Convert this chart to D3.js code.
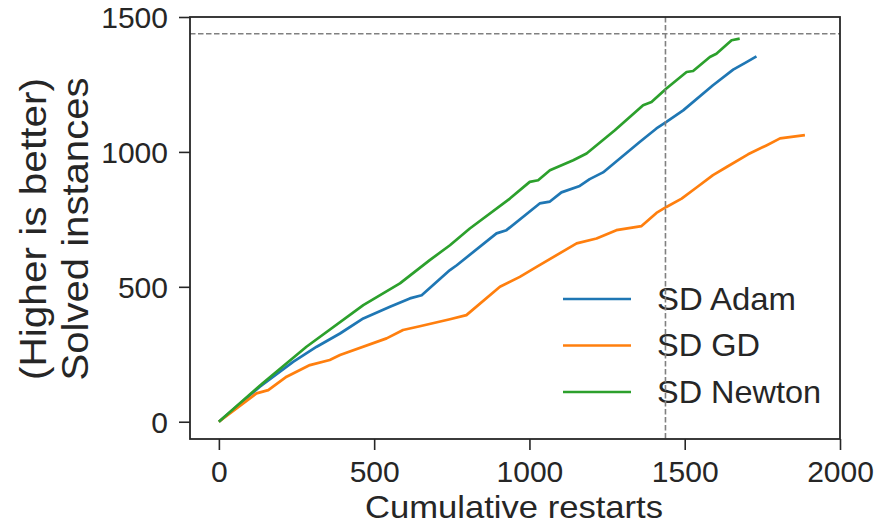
<!DOCTYPE html>
<html><head><meta charset="utf-8">
<script src="https://cdn.jsdelivr.net/npm/d3@7"></script>
<style>body{margin:0;background:#fff}svg{display:block}text{font-family:"Liberation Sans",Arial,sans-serif;fill:#262626}</style>
</head><body><svg id="c" width="877" height="528"></svg>
<script>
const adamX = [0,132,239,315,390,465,551,615,653,744,766,894,926,1033,1066,1103,1162,1194,1237,1355,1409,1441,1495,1591,1656,1699,1731];
const adamY = [0,130,222,278,327,383,426,457,469,562,580,698,710,809,816,850,874,899,924,1037,1087,1111,1154,1247,1305,1333,1354];
const gdX = [0,121,159,218,293,357,390,540,593,647,744,797,905,969,1023,1152,1216,1280,1361,1409,1441,1490,1538,1591,1635,1704,1763,1807,1887];
const gdY = [0,105,117,167,210,229,247,309,340,354,380,395,500,537,574,661,679,710,725,774,796,827,868,914,944,991,1024,1050,1062];
const newtonX = [0,140,282,465,583,679,744,808,937,1001,1028,1066,1141,1184,1275,1366,1393,1441,1506,1527,1581,1602,1651,1677];
const newtonY = [0,142,278,432,513,599,654,716,827,889,895,932,969,994,1080,1173,1185,1235,1296,1300,1352,1364,1414,1420];
const seriesNames = ["SD Adam","SD GD","SD Newton"];
const seriesColors = ["#1f77b4","#ff7f0e","#2ca02c"];
const xTicks = [0,500,1000,1500,2000];
const yTicks = [0,500,1000,1500];
const refValue = 1438;
const xLabel = "Cumulative restarts";
const yLabel1 = "(Higher is better)";
const yLabel2 = "Solved instances";

const svg = d3.select("#c");
const L=190,R=840,T=17,B=439;
const x = d3.scaleLinear().domain([-93,2000]).range([L,R]);
const y = d3.scaleLinear().domain([-64,1500]).range([B,T]);

const series = [[adamX,adamY],[gdX,gdY],[newtonX,newtonY]];
const line = d3.line().x(d=>x(d[0])).y(d=>y(d[1]));
series.forEach((s,i)=>{
  const pts = s[0].map((v,j)=>[v,s[1][j]]);
  svg.append("path").datum(pts).attr("d",line).attr("fill","none")
    .attr("stroke",seriesColors[i]).attr("stroke-width",2.7).attr("stroke-linejoin","round");
});

// legend
seriesNames.forEach((n,i)=>{
  const ly = 299 + i*46.5;
  svg.append("line").attr("x1",563).attr("x2",631).attr("y1",ly).attr("y2",ly)
    .attr("stroke",seriesColors[i]).attr("stroke-width",2.7);
  svg.append("text").attr("x",657).attr("y",ly+10.5).attr("font-size",30.5).text(n)
    .attr("textLength",[139,103,164][i]).attr("lengthAdjust","spacingAndGlyphs");
});

// reference lines
svg.append("line").attr("x1",L).attr("x2",R).attr("y1",y(refValue)).attr("y2",y(refValue))
  .attr("stroke","#808080").attr("stroke-width",1.6).attr("stroke-dasharray","5.5,2.5");
svg.append("line").attr("x1",x(refValue)).attr("x2",x(refValue)).attr("y1",T).attr("y2",B)
  .attr("stroke","#808080").attr("stroke-width",1.6).attr("stroke-dasharray","5.5,2.5");

// axes
const xa = svg.append("g").attr("transform",`translate(0,${B})`)
  .call(d3.axisBottom(x).tickValues(xTicks).tickFormat(d3.format("d")).tickSize(11).tickPadding(6).tickSizeOuter(0));
const ya = svg.append("g").attr("transform",`translate(${L},0)`)
  .call(d3.axisLeft(y).tickValues(yTicks).tickFormat(d3.format("d")).tickSize(11).tickPadding(11).tickSizeOuter(0));
[xa,ya].forEach(a=>{
  a.select(".domain").remove();
  a.selectAll(".tick line").attr("stroke","#262626").attr("stroke-width",1.6);
  a.selectAll(".tick text").attr("font-size",30).attr("fill","#262626")
    .attr("font-family",'"Liberation Sans",Arial,sans-serif');
});
xa.selectAll(".tick text").attr("dy","0.85em");
ya.selectAll(".tick text").attr("dy","0.36em");

svg.append("rect").attr("x",L).attr("y",T).attr("width",R-L).attr("height",B-T)
  .attr("fill","none").attr("stroke","#262626").attr("stroke-width",1.8);

svg.append("text").attr("x",(L+R)/2 - 1).attr("y",518).attr("text-anchor","middle")
  .attr("font-size",32).attr("textLength",298).attr("lengthAdjust","spacingAndGlyphs").text(xLabel);
svg.append("text").attr("transform",`translate(46,${(T+B)/2 + 1}) rotate(-90)`).attr("text-anchor","middle")
  .attr("font-size",36).attr("textLength",302).attr("lengthAdjust","spacingAndGlyphs").text(yLabel1);
svg.append("text").attr("transform",`translate(88,${(T+B)/2 + 1}) rotate(-90)`).attr("text-anchor","middle")
  .attr("font-size",36).attr("textLength",303).attr("lengthAdjust","spacingAndGlyphs").text(yLabel2);
</script></body></html>
